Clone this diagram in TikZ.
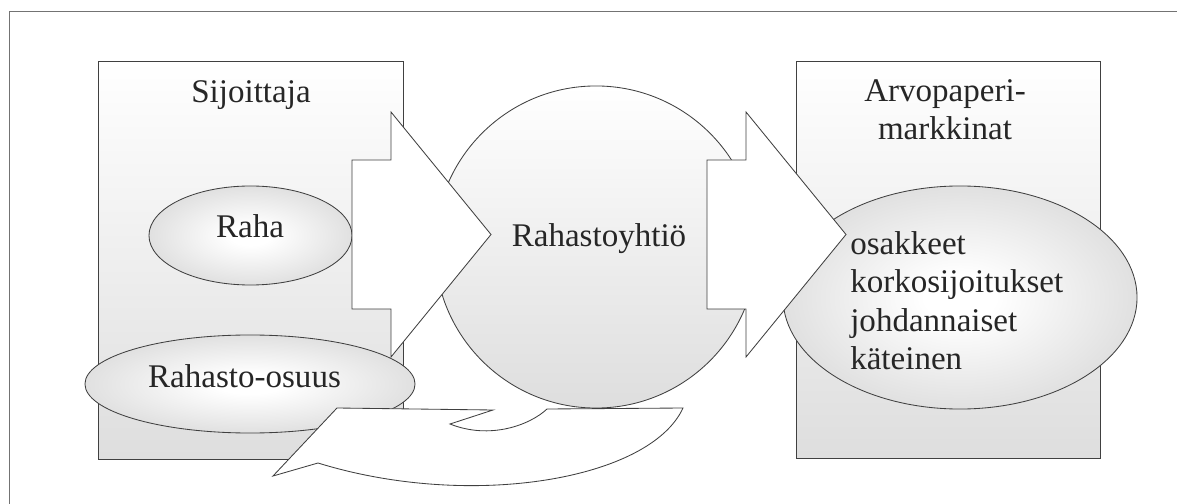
\documentclass[tikz,border=0pt]{standalone}
\usepackage{fontspec}
\setmainfont{Liberation Serif}
\usetikzlibrary{shapes.geometric}
\pgfdeclareradialshading{blobshade}{\pgfpoint{0bp}{0bp}}{color(0bp)=(white); color(5bp)=(white); color(50bp)=(black!27); color(100bp)=(black!27)}

\begin{document}
\begin{tikzpicture}[x=0.025cm,y=-0.025cm,
  box/.style={draw=black!75,line width=0.6pt,top color=white,bottom color=black!13},
  blob/.style={ellipse,draw=black!75,line width=0.6pt,shading=blobshade,inner sep=0pt},
  blockarrow/.style={draw=black!75,line width=0.6pt,fill=white},
  txt/.style={text=black!85,font=\fontsize{23.5}{28}\selectfont,inner sep=0pt}]
\useasboundingbox (0,0) rectangle (1177,504);
\clip (0,0) rectangle (1177,504);
\draw[black!55,line width=1.2pt] (9.5,11.5) rectangle (1200,530);

% boxes and the fund company
\draw[box] (98,61) rectangle (403,459);
\draw[box] (796,61) rectangle (1100,458);
\node[circle,draw=black!75,line width=0.6pt,top color=white,bottom color=black!13,minimum size=8.05cm,inner sep=0pt] (yhtio) at (596,247) {};

\node[blob,minimum width=5.075cm,minimum height=2.475cm] (raha) at (250.5,235.5) {};
\node[blob,minimum width=8.25cm,minimum height=2.45cm] (osuus) at (250,384) {};
\node[blob,minimum width=8.85cm,minimum height=5.575cm] (sijoitukset) at (960,297.5) {};

% block arrows
\draw[blockarrow] (352,160)--(391,160)--(391,112)--(491,234.5)--(391,357)--(391,309)--(352,309)--cycle;
\draw[blockarrow] (707,160)--(746,160)--(746,112)--(846,234.5)--(746,357)--(746,309)--(707,309)--cycle;
\draw[blockarrow] (337,408)--(493,410)--(450,424) .. controls (490,440) and (530,425) .. (547,409)
  --(683,408) .. controls (650,480) and (470,510) .. (318,463)--(273,476)--cycle;

% texts
\node[txt,anchor=base] (sijoittaja) at (251,103) {Sijoittaja};
\node[txt,anchor=base] (rahatxt) at (250,238) {Raha};
\node[txt,anchor=base] (osuustxt) at (244.5,387) {Rahasto-osuus};
\node[txt,anchor=base] (yhtiotxt) at (599,247) {Rahastoyhtiö};
\node[txt,anchor=base] (arvo) at (945,102) {Arvopaperi-};
\node[txt,anchor=base] (markkinat) at (945,140) {markkinat};
\node[txt,anchor=base west] (osakkeet) at (850,255) {osakkeet};
\node[txt,anchor=base west] (korko) at (850,293) {korkosijoitukset};
\node[txt,anchor=base west] (johd) at (850,331) {johdannaiset};
\node[txt,anchor=base west] (kateinen) at (850,369) {käteinen};
\end{tikzpicture}
\end{document}
